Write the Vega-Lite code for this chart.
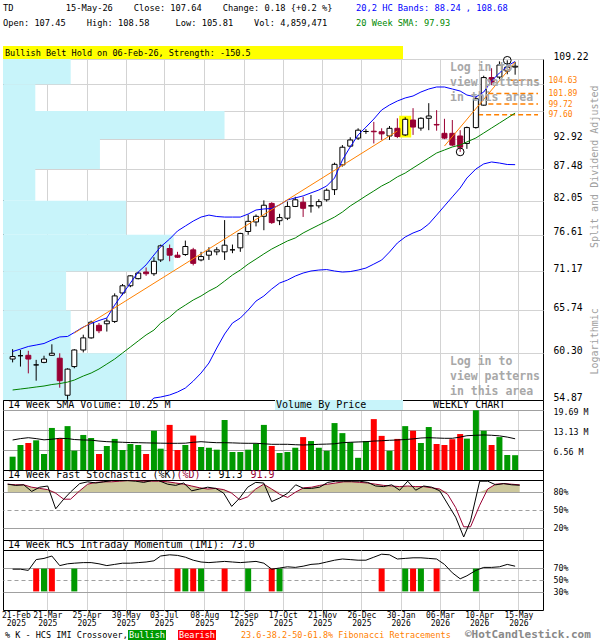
{
  "$schema": "https://vega.github.io/schema/vega-lite/v6.json",
  "padding": 0,
  "background": "#ffffff",
  "bounds": "flush",
  "spacing": 0,
  "config": {
    "font": "DejaVu Sans Mono",
    "view": {"stroke": "#000000", "strokeWidth": 1},
    "concat": {"spacing": 0},
    "axis": {"domain": false, "ticks": false, "labelFont": "DejaVu Sans Mono", "titleFont": "DejaVu Sans Mono", "labelColor": "#000000", "labelBound": false, "labelOverlap": false}
  },
  "datasets": {
    "weeks": [
      {"date": "2025-02-21", "open": 59.6, "high": 60.8, "low": 59.2, "close": 59.9, "volume": 4370000, "volSma": 9850000, "upper": 60.51, "sma": 55.99, "lower": 51.8, "k": 93, "d": 93, "imi": 68},
      {"date": "2025-02-28", "open": 60.0, "high": 60.7, "low": 58.7, "close": 60.0, "volume": 8200000, "volSma": 10300000, "upper": 60.81, "sma": 56.1, "lower": 51.8, "k": 91, "d": 92, "imi": 68},
      {"date": "2025-03-07", "open": 60.05, "high": 60.6, "low": 57.9, "close": 59.6, "volume": 8860000, "volSma": 10600000, "upper": 61.13, "sma": 56.21, "lower": 51.8, "k": 92, "d": 92, "imi": 66},
      {"date": "2025-03-14", "open": 58.9, "high": 59.5, "low": 57.05, "close": 58.9, "volume": 9740000, "volSma": 10300000, "upper": 61.31, "sma": 56.33, "lower": 51.8, "k": 81, "d": 88, "imi": 84, "cross": "Bearish"},
      {"date": "2025-03-21", "open": 59.2, "high": 60.0, "low": 59.1, "close": 59.6, "volume": 5250000, "volSma": 9900000, "upper": 61.5, "sma": 56.44, "lower": 51.75, "k": 88, "d": 86, "imi": 86, "cross": "Bullish"},
      {"date": "2025-03-28", "open": 60.05, "high": 61.4, "low": 60.0, "close": 60.3, "volume": 13800000, "volSma": 10100000, "upper": 61.94, "sma": 56.61, "lower": 51.75, "k": 90, "d": 84, "imi": 90, "cross": "Bearish"},
      {"date": "2025-04-04", "open": 59.7, "high": 60.3, "low": 56.25, "close": 57.05, "volume": 10400000, "volSma": 10400000, "upper": 62.32, "sma": 56.72, "lower": 51.9, "k": 52, "d": 78, "imi": 74},
      {"date": "2025-04-11", "open": 55.4, "high": 58.5, "low": 54.9, "close": 58.4, "volume": 14400000, "volSma": 10300000, "upper": 62.38, "sma": 56.89, "lower": 52.0, "k": 68, "d": 68, "imi": 77},
      {"date": "2025-04-17", "open": 58.7, "high": 60.8, "low": 58.5, "close": 60.7, "volume": 6340000, "volSma": 10000000, "upper": 62.88, "sma": 57.12, "lower": 52.2, "k": 80, "d": 68, "imi": 78, "cross": "Bullish"},
      {"date": "2025-04-25", "open": 60.7, "high": 62.6, "low": 60.4, "close": 62.2, "volume": 11500000, "volSma": 9850000, "upper": 63.58, "sma": 57.59, "lower": 52.35, "k": 94, "d": 82, "imi": 79},
      {"date": "2025-05-02", "open": 62.2, "high": 64.4, "low": 62.1, "close": 64.2, "volume": 10500000, "volSma": 9800000, "upper": 64.03, "sma": 57.94, "lower": 52.5, "k": 97, "d": 93, "imi": 79},
      {"date": "2025-05-09", "open": 63.8, "high": 64.1, "low": 62.8, "close": 63.1, "volume": 5250000, "volSma": 9500000, "upper": 64.42, "sma": 58.41, "lower": 52.7, "k": 95, "d": 96, "imi": 77},
      {"date": "2025-05-16", "open": 64.0, "high": 64.7, "low": 63.0, "close": 64.35, "volume": 7880000, "volSma": 9300000, "upper": 64.75, "sma": 59.0, "lower": 52.95, "k": 97, "d": 97, "imi": 74},
      {"date": "2025-05-23", "open": 64.3, "high": 68.05, "low": 64.1, "close": 67.7, "volume": 10200000, "volSma": 9200000, "upper": 66.46, "sma": 59.6, "lower": 53.2, "k": 99, "d": 97, "imi": 76},
      {"date": "2025-05-30", "open": 68.1, "high": 69.35, "low": 67.8, "close": 69.1, "volume": 6560000, "volSma": 9100000, "upper": 67.96, "sma": 60.33, "lower": 53.45, "k": 99, "d": 98, "imi": 78},
      {"date": "2025-06-06", "open": 69.1, "high": 70.6, "low": 68.9, "close": 70.5, "volume": 8530000, "volSma": 9000000, "upper": 69.48, "sma": 61.07, "lower": 53.7, "k": 99, "d": 99, "imi": 78},
      {"date": "2025-06-13", "open": 70.1, "high": 71.1, "low": 70.0, "close": 70.9, "volume": 8200000, "volSma": 8960000, "upper": 71.04, "sma": 61.82, "lower": 53.95, "k": 98, "d": 99, "imi": 79},
      {"date": "2025-06-20", "open": 71.05, "high": 71.7, "low": 70.5, "close": 70.8, "volume": 5250000, "volSma": 8900000, "upper": 72.08, "sma": 62.57, "lower": 54.3, "k": 96, "d": 98, "imi": 80},
      {"date": "2025-06-27", "open": 70.8, "high": 73.2, "low": 70.5, "close": 72.6, "volume": 12900000, "volSma": 8850000, "upper": 73.53, "sma": 63.19, "lower": 55.09, "k": 99, "d": 98, "imi": 82},
      {"date": "2025-07-03", "open": 72.8, "high": 75.1, "low": 72.5, "close": 74.9, "volume": 7000000, "volSma": 8800000, "upper": 74.76, "sma": 64.09, "lower": 55.2, "k": 99, "d": 98, "imi": 90},
      {"date": "2025-07-11", "open": 74.5, "high": 75.1, "low": 72.6, "close": 73.5, "volume": 14800000, "volSma": 8760000, "upper": 75.94, "sma": 64.87, "lower": 55.43, "k": 93, "d": 97, "imi": 92},
      {"date": "2025-07-18", "open": 73.5, "high": 74.0, "low": 73.1, "close": 73.2, "volume": 6560000, "volSma": 8760000, "upper": 77.18, "sma": 65.79, "lower": 55.76, "k": 91, "d": 95, "imi": 91, "cross": "Bearish"},
      {"date": "2025-07-25", "open": 73.6, "high": 75.7, "low": 73.4, "close": 74.8, "volume": 8200000, "volSma": 8800000, "upper": 77.96, "sma": 66.46, "lower": 56.21, "k": 95, "d": 93, "imi": 88, "cross": "Bullish"},
      {"date": "2025-08-01", "open": 74.3, "high": 74.6, "low": 72.0, "close": 72.3, "volume": 11300000, "volSma": 9100000, "upper": 78.74, "sma": 67.14, "lower": 57.0, "k": 82, "d": 90, "imi": 83, "cross": "Bearish"},
      {"date": "2025-08-08", "open": 72.8, "high": 74.0, "low": 72.6, "close": 73.3, "volume": 7550000, "volSma": 9290000, "upper": 79.38, "sma": 67.69, "lower": 57.94, "k": 85, "d": 87, "imi": 80, "cross": "Bullish"},
      {"date": "2025-08-15", "open": 73.5, "high": 74.7, "low": 72.8, "close": 74.1, "volume": 7300000, "volSma": 9100000, "upper": 79.7, "sma": 68.37, "lower": 59.12, "k": 88, "d": 85, "imi": 79},
      {"date": "2025-08-22", "open": 74.0, "high": 74.7, "low": 73.5, "close": 74.3, "volume": 6670000, "volSma": 8960000, "upper": 79.47, "sma": 68.93, "lower": 60.94, "k": 86, "d": 86, "imi": 80},
      {"date": "2025-08-29", "open": 74.0, "high": 78.9, "low": 72.8, "close": 75.0, "volume": 16400000, "volSma": 8960000, "upper": 79.38, "sma": 69.76, "lower": 62.69, "k": 78, "d": 84, "imi": 81, "cross": "Bearish"},
      {"date": "2025-09-05", "open": 74.3, "high": 75.1, "low": 73.8, "close": 74.3, "volume": 5900000, "volSma": 8900000, "upper": 79.38, "sma": 70.62, "lower": 64.09, "k": 56, "d": 78, "imi": 80},
      {"date": "2025-09-12", "open": 74.6, "high": 76.9, "low": 74.0, "close": 76.8, "volume": 5900000, "volSma": 8800000, "upper": 79.38, "sma": 71.33, "lower": 64.74, "k": 70, "d": 67, "imi": 79},
      {"date": "2025-09-19", "open": 77.1, "high": 79.8, "low": 76.6, "close": 78.7, "volume": 6670000, "volSma": 8760000, "upper": 79.87, "sma": 72.19, "lower": 65.79, "k": 88, "d": 72, "imi": 80, "cross": "Bullish"},
      {"date": "2025-09-26", "open": 78.6, "high": 79.8, "low": 77.9, "close": 79.5, "volume": 8600000, "volSma": 8760000, "upper": 80.52, "sma": 72.93, "lower": 67.0, "k": 96, "d": 85, "imi": 81},
      {"date": "2025-10-03", "open": 79.5, "high": 82.1, "low": 77.3, "close": 81.3, "volume": 14800000, "volSma": 8600000, "upper": 80.69, "sma": 73.69, "lower": 67.69, "k": 95, "d": 93, "imi": 78},
      {"date": "2025-10-10", "open": 81.6, "high": 81.8, "low": 78.3, "close": 78.5, "volume": 7880000, "volSma": 8430000, "upper": 80.77, "sma": 74.42, "lower": 68.65, "k": 64, "d": 85, "imi": 68, "cross": "Bearish"},
      {"date": "2025-10-17", "open": 78.8, "high": 79.9, "low": 78.1, "close": 79.3, "volume": 5580000, "volSma": 8430000, "upper": 81.35, "sma": 75.03, "lower": 69.48, "k": 70, "d": 76, "imi": 70, "cross": "Bullish"},
      {"date": "2025-10-24", "open": 79.2, "high": 81.9, "low": 78.9, "close": 81.1, "volume": 5900000, "volSma": 8430000, "upper": 82.17, "sma": 75.64, "lower": 69.9, "k": 78, "d": 71, "imi": 72},
      {"date": "2025-10-31", "open": 81.1, "high": 82.7, "low": 81.0, "close": 82.2, "volume": 7300000, "volSma": 8300000, "upper": 82.51, "sma": 76.1, "lower": 70.47, "k": 92, "d": 80, "imi": 71},
      {"date": "2025-11-07", "open": 81.8, "high": 82.7, "low": 79.4, "close": 80.8, "volume": 10800000, "volSma": 8200000, "upper": 82.85, "sma": 76.87, "lower": 70.9, "k": 86, "d": 87, "imi": 73},
      {"date": "2025-11-14", "open": 81.2, "high": 83.0, "low": 80.1, "close": 81.2, "volume": 9500000, "volSma": 8300000, "upper": 83.35, "sma": 77.5, "lower": 71.19, "k": 86, "d": 88, "imi": 76},
      {"date": "2025-11-21", "open": 81.2, "high": 82.3, "low": 80.8, "close": 81.9, "volume": 7300000, "volSma": 8430000, "upper": 83.84, "sma": 78.12, "lower": 71.33, "k": 88, "d": 91, "imi": 77},
      {"date": "2025-11-28", "open": 82.2, "high": 84.1, "low": 81.9, "close": 83.8, "volume": 6300000, "volSma": 8500000, "upper": 84.52, "sma": 78.74, "lower": 71.4, "k": 96, "d": 93, "imi": 80},
      {"date": "2025-12-05", "open": 83.9, "high": 88.6, "low": 83.0, "close": 88.3, "volume": 15400000, "volSma": 8600000, "upper": 85.89, "sma": 79.38, "lower": 71.19, "k": 98, "d": 95, "imi": 83},
      {"date": "2025-12-12", "open": 88.2, "high": 91.8, "low": 87.9, "close": 91.4, "volume": 12100000, "volSma": 8960000, "upper": 89.07, "sma": 80.19, "lower": 71.04, "k": 98, "d": 97, "imi": 85},
      {"date": "2025-12-19", "open": 91.6, "high": 93.25, "low": 91.4, "close": 92.75, "volume": 9100000, "volSma": 9100000, "upper": 91.45, "sma": 81.18, "lower": 71.11, "k": 98, "d": 97, "imi": 84},
      {"date": "2025-12-26", "open": 93.1, "high": 94.96, "low": 92.75, "close": 94.6, "volume": 4000000, "volSma": 9200000, "upper": 93.69, "sma": 82.0, "lower": 71.33, "k": 98, "d": 96, "imi": 83},
      {"date": "2026-01-02", "open": 94.35, "high": 94.8, "low": 93.9, "close": 94.35, "volume": 9500000, "volSma": 9290000, "upper": 95.18, "sma": 82.85, "lower": 71.62, "k": 96, "d": 95, "imi": 83},
      {"date": "2026-01-09", "open": 94.4, "high": 96.2, "low": 92.1, "close": 94.3, "volume": 16700000, "volSma": 9500000, "upper": 96.75, "sma": 83.67, "lower": 72.19, "k": 90, "d": 93, "imi": 88},
      {"date": "2026-01-16", "open": 94.3, "high": 94.96, "low": 92.75, "close": 93.9, "volume": 11200000, "volSma": 9600000, "upper": 98.54, "sma": 84.52, "lower": 72.78, "k": 89, "d": 91, "imi": 93, "cross": "Bearish"},
      {"date": "2026-01-23", "open": 93.5, "high": 95.4, "low": 92.75, "close": 94.96, "volume": 6300000, "volSma": 9750000, "upper": 99.54, "sma": 85.21, "lower": 73.97, "k": 92, "d": 90, "imi": 92},
      {"date": "2026-01-30", "open": 94.96, "high": 96.9, "low": 93.1, "close": 93.4, "volume": 10200000, "volSma": 9850000, "upper": 100.34, "sma": 86.09, "lower": 75.33, "k": 83, "d": 89, "imi": 85},
      {"date": "2026-02-06", "open": 93.7, "high": 97.1, "low": 93.5, "close": 96.7, "volume": 14400000, "volSma": 10000000, "upper": 100.96, "sma": 86.76, "lower": 76.25, "k": 98, "d": 90, "imi": 86, "cross": "Bullish", "pattern": "Bullish Belt Hold"},
      {"date": "2026-02-13", "open": 96.56, "high": 98.9, "low": 93.7, "close": 95.2, "volume": 12900000, "volSma": 10200000, "upper": 101.36, "sma": 87.65, "lower": 76.87, "k": 83, "d": 89, "imi": 87, "cross": "Bearish"},
      {"date": "2026-02-20", "open": 95.0, "high": 97.1, "low": 94.5, "close": 96.9, "volume": 8860000, "volSma": 10500000, "upper": 102.18, "sma": 88.53, "lower": 77.34, "k": 90, "d": 89, "imi": 87, "cross": "Bullish"},
      {"date": "2026-02-27", "open": 96.9, "high": 99.9, "low": 94.6, "close": 97.35, "volume": 14100000, "volSma": 10600000, "upper": 102.8, "sma": 89.43, "lower": 78.28, "k": 88, "d": 87, "imi": 86},
      {"date": "2026-03-06", "open": 95.7, "high": 98.5, "low": 94.5, "close": 95.6, "volume": 8530000, "volSma": 10500000, "upper": 103.22, "sma": 90.34, "lower": 79.7, "k": 82, "d": 85, "imi": 85, "cross": "Bearish"},
      {"date": "2026-03-13", "open": 94.0, "high": 96.8, "low": 92.9, "close": 93.1, "volume": 8200000, "volSma": 10400000, "upper": 103.22, "sma": 90.89, "lower": 81.18, "k": 60, "d": 76, "imi": 76},
      {"date": "2026-03-20", "open": 94.0, "high": 96.56, "low": 91.6, "close": 91.8, "volume": 10100000, "volSma": 10400000, "upper": 102.8, "sma": 91.45, "lower": 82.68, "k": 38, "d": 54, "imi": 62},
      {"date": "2026-03-27", "open": 93.5, "high": 94.6, "low": 90.54, "close": 91.4, "volume": 11800000, "volSma": 10800000, "upper": 102.38, "sma": 91.81, "lower": 84.18, "k": 5, "d": 22, "imi": 52, "swing": "low"},
      {"date": "2026-04-02", "open": 92.1, "high": 95.3, "low": 91.1, "close": 95.1, "volume": 10300000, "volSma": 11260000, "upper": 101.56, "sma": 92.38, "lower": 85.89, "k": 32, "d": 22, "imi": 57},
      {"date": "2026-04-10", "open": 95.1, "high": 101.2, "low": 94.9, "close": 100.8, "volume": 19600000, "volSma": 11400000, "upper": 101.16, "sma": 93.12, "lower": 87.47, "k": 98, "d": 58, "imi": 66, "cross": "Bullish"},
      {"date": "2026-04-17", "open": 99.5, "high": 105.6, "low": 99.4, "close": 105.2, "volume": 12900000, "volSma": 11500000, "upper": 102.18, "sma": 94.06, "lower": 88.37, "k": 98, "d": 85, "imi": 71},
      {"date": "2026-04-24", "open": 105.2, "high": 107.2, "low": 103.6, "close": 104.2, "volume": 8200000, "volSma": 11400000, "upper": 104.48, "sma": 95.01, "lower": 88.72, "k": 92, "d": 93, "imi": 71},
      {"date": "2026-05-01", "open": 105.3, "high": 108.7, "low": 104.9, "close": 107.9, "volume": 10800000, "volSma": 11200000, "upper": 106.18, "sma": 95.97, "lower": 88.53, "k": 94, "d": 94, "imi": 72},
      {"date": "2026-05-08", "open": 106.6, "high": 108.93, "low": 105.9, "close": 107.46, "volume": 4920000, "volSma": 10800000, "upper": 107.68, "sma": 96.94, "lower": 88.27, "k": 92, "d": 93, "imi": 76, "swing": "high"},
      {"date": "2026-05-15", "open": 107.45, "high": 108.58, "low": 105.81, "close": 107.64, "volume": 4859471, "volSma": 10250000, "upper": 108.68, "sma": 97.93, "lower": 88.24, "k": 91.3, "d": 91.9, "imi": 73}
    ],
    "vbp": [
      {"lo": 54.87, "hi": 60.3, "volume": 80},
      {"lo": 60.3, "hi": 65.74, "volume": 44},
      {"lo": 65.74, "hi": 71.17, "volume": 41},
      {"lo": 71.17, "hi": 76.61, "volume": 111},
      {"lo": 76.61, "hi": 82.05, "volume": 80},
      {"lo": 82.05, "hi": 87.48, "volume": 21},
      {"lo": 87.48, "hi": 92.92, "volume": 63},
      {"lo": 92.92, "hi": 98.35, "volume": 144},
      {"lo": 98.35, "hi": 103.79, "volume": 21},
      {"lo": 103.79, "hi": 109.22, "volume": 44}
    ],
    "fib": [
      {"level": "23.6%", "price": 104.63, "start": "2026-05-11"},
      {"level": "38.2%", "price": 101.89, "start": "2026-04-14"},
      {"level": "50%", "price": 99.72, "start": "2026-04-14"},
      {"level": "61.8%", "price": 97.6, "start": "2026-04-12"}
    ],
    "trend": [
      {"line": "a", "date": "2025-04-17", "price": 62.81},
      {"line": "a", "date": "2026-01-30", "price": 94.44},
      {"line": "b", "date": "2026-03-13", "price": 91.62},
      {"line": "b", "date": "2026-05-15", "price": 108.56}
    ]
  },
  "data": {"name": "weeks"},
  "vconcat": [
    {
      "width": 540,
      "height": 15,
      "view": {"stroke": null},
      "data": {"values": [{}]},
      "layer": [
        {
          "mark": {"type": "text", "align": "left", "baseline": "middle", "fontSize": 8.7, "lineHeight": 15.5, "color": "#000000",
            "text": ["TD\u00a0\u00a0\u00a0\u00a0\u00a0\u00a0\u00a0\u00a0\u00a0\u00a015-May-26\u00a0\u00a0\u00a0\u00a0Close: 107.64\u00a0\u00a0\u00a0\u00a0Change: 0.18 {+0.2 %}", "\u00a0Open: 107.45\u00a0\u00a0\u00a0\u00a0High: 108.58\u00a0\u00a0\u00a0\u00a0\u00a0Low: 105.81\u00a0\u00a0\u00a0\u00a0Vol: 4,859,471"]},
          "encoding": {"x": {"datum": 1739740680000, "type": "temporal", "scale": {"type": "utc", "domain": [1739740680000, 1780564680000]}, "axis": null}}
        },
        {
          "mark": {"type": "text", "align": "left", "baseline": "middle", "fontSize": 8.7, "lineHeight": 15.5, "color": "#0000ff", "text": "20,2 HC Bands: 88.24 , 108.68"},
          "encoding": {"x": {"datum": 1766427480000, "type": "temporal"}}
        },
        {
          "mark": {"type": "text", "align": "left", "baseline": "middle", "fontSize": 8.7, "lineHeight": 15.5, "color": "#008800", "text": ["", "20 Week SMA: 97.93"]},
          "encoding": {"x": {"datum": 1766427480000, "type": "temporal"}}
        }
      ]
    },
    {
      "width": 540,
      "height": 31,
      "view": {"stroke": null},
      "data": {"values": [{}]},
      "mark": {"type": "text", "text": ""}
    },
    {
      "width": 400,
      "height": 13,
      "view": {"stroke": null, "fill": "#ffff00"},
      "data": {"values": [{}]},
      "mark": {"type": "text", "align": "left", "baseline": "middle", "fontSize": 8.5, "color": "#000000", "text": "Bullish Belt Hold on 06-Feb-26, Strength: -150.5"},
      "encoding": {"x": {"datum": 1739944800000, "type": "temporal", "scale": {"type": "utc", "domain": [1739740680000, 1780564680000]}, "axis": null}}
    },
    {
      "width": 540,
      "height": 341,
      "layer": [
        {
          "data": {"name": "vbp"},
          "mark": {"type": "rect", "color": "#c8f4fa"},
          "encoding": {
            "x": {"field": "volume", "type": "quantitative", "scale": {"domain": [0, 351]}, "axis": null},
            "x2": {"datum": 0},
            "y": {
              "field": "lo", "type": "quantitative",
              "scale": {"type": "log", "domain": [54.87, 109.22], "nice": false},
              "axis": {
                "orient": "right",
                "values": [54.87, 60.3, 65.74, 71.17, 76.61, 82.05, 87.48, 92.92, 98.35, 103.79, 109.22, 97.6, 99.72, 101.89, 104.63],
                "labelExpr": "datum.value == 98.35 || datum.value == 103.79 ? '' : format(datum.value, '.2f')",
                "labelOverlap": false,
                "labelAlign": "left",
                "labelBaseline": "middle",
                "labelColor": {"condition": {"test": "datum.value == 97.6 || datum.value == 99.72 || datum.value == 101.89 || datum.value == 104.63", "value": "#ff8000"}, "value": "#000000"},
                "labelFontSize": {"condition": {"test": "datum.value == 97.6 || datum.value == 99.72 || datum.value == 101.89 || datum.value == 104.63", "value": 8}, "value": 9.7},
                "labelPadding": {"condition": {"test": "datum.value == 97.6 || datum.value == 99.72 || datum.value == 101.89 || datum.value == 104.63", "value": 5}, "value": 10},
                "labelOffset": {"condition": {"test": "datum.value == 97.6 || datum.value == 99.72 || datum.value == 101.89 || datum.value == 104.63", "value": 0}, "value": -3},
                "grid": true,
                "gridColor": "#d3d3d3",
                "gridOpacity": {"condition": {"test": "datum.value == 97.6 || datum.value == 99.72 || datum.value == 101.89 || datum.value == 104.63", "value": 0}, "value": 1},
                "title": "Logarithmic\u00a0\u00a0\u00a0\u00a0\u00a0\u00a0\u00a0\u00a0\u00a0\u00a0Split and Dividend Adjusted",
                "titleAngle": 270,
                "titleColor": "#a0a0a0",
                "titleFontSize": 10,
                "titleFontWeight": "normal",
                "titleX": 51,
                "titleBaseline": "middle",
                "titleAlign": "center"
              }
            },
            "y2": {"field": "hi"}
          }
        },
        {
          "encoding": {
            "x": {
              "field": "date", "type": "temporal",
              "scale": {"type": "utc", "domain": [1739740680000, 1780564680000]},
              "axis": {"title": null, "labels": false, "grid": true, "gridColor": "#d3d3d3",
                "values": [1740345480000, 1742764680000, 1745788680000, 1748812680000, 1751750280000, 1754860680000, 1757884680000, 1760908680000, 1763932680000, 1766956680000, 1769980680000, 1773004680000, 1776028680000, 1779052680000],
                "gridOpacity": {"condition": {"test": "datum.value < 1741000000000", "value": 0}, "value": 1}}
            }
          },
          "layer": [
            {
              "data": {"values": [{}]},
              "mark": {"type": "rect", "color": "#000000", "opacity": 0.05},
              "encoding": {"x": {"datum": 1773004680000, "type": "temporal"}, "x2": {"datum": 1780564680000}}
            },
            {
              "data": {"values": [{}]},
              "mark": {"type": "rule", "color": "#999999", "strokeWidth": 1},
              "encoding": {"x": {"datum": 1773004680000, "type": "temporal"}}
            },
            {
              "data": {"name": "fib"},
              "mark": {"type": "rule", "color": "#ff8000", "strokeWidth": 1.5, "strokeDash": [5, 3]},
              "encoding": {
                "x": {"field": "start", "type": "temporal"},
                "x2": {"datum": 1780564680000},
                "y": {"field": "price", "type": "quantitative", "scale": {"type": "log", "domain": [54.87, 109.22], "nice": false}}
              }
            },
            {
              "transform": [{"filter": "datum.pattern"}],
              "mark": {"type": "bar", "width": 9, "color": "#ffff00", "stroke": "#ffff00", "strokeWidth": 3},
              "encoding": {
                "y": {"field": "low", "type": "quantitative", "scale": {"type": "log", "domain": [54.87, 109.22], "nice": false}},
                "y2": {"field": "high"}
              }
            },
            {
              "mark": {"type": "rule", "strokeWidth": 1},
              "encoding": {
                "y": {"field": "low", "type": "quantitative", "scale": {"type": "log", "domain": [54.87, 109.22], "nice": false}},
                "y2": {"field": "high"},
                "color": {"condition": {"test": "datum.close < datum.open", "value": "#990033"}, "value": "#000000"}
              }
            },
            {
              "mark": {"type": "bar", "width": 5, "strokeWidth": 1},
              "encoding": {
                "y": {"field": "open", "type": "quantitative", "scale": {"type": "log", "domain": [54.87, 109.22], "nice": false}},
                "y2": {"field": "close"},
                "fill": {"condition": {"test": "datum.close < datum.open", "value": "#990033"}, "value": "#ffffff"},
                "stroke": {"condition": {"test": "datum.close < datum.open", "value": "#990033"}, "value": "#000000"}
              }
            },
            {
              "mark": {"type": "line", "color": "#0000ff", "strokeWidth": 1, "clip": true},
              "encoding": {"y": {"field": "upper", "type": "quantitative", "scale": {"type": "log", "domain": [54.87, 109.22], "nice": false}}}
            },
            {
              "mark": {"type": "line", "color": "#0000ff", "strokeWidth": 1, "clip": true},
              "encoding": {"y": {"field": "lower", "type": "quantitative", "scale": {"type": "log", "domain": [54.87, 109.22], "nice": false}}}
            },
            {
              "mark": {"type": "line", "color": "#008000", "strokeWidth": 1, "clip": true},
              "encoding": {"y": {"field": "sma", "type": "quantitative", "scale": {"type": "log", "domain": [54.87, 109.22], "nice": false}}}
            },
            {
              "data": {"name": "trend"},
              "mark": {"type": "line", "color": "#ff8000", "strokeWidth": 1, "clip": true},
              "encoding": {
                "y": {"field": "price", "type": "quantitative", "scale": {"type": "log", "domain": [54.87, 109.22], "nice": false}},
                "detail": {"field": "line", "type": "nominal"}
              }
            },
            {
              "transform": [{"filter": "datum.swing == 'low'"}],
              "mark": {"type": "point", "shape": "circle", "filled": false, "size": 60, "color": "#000000", "strokeWidth": 1, "opacity": 1},
              "encoding": {"y": {"field": "low", "type": "quantitative", "scale": {"type": "log", "domain": [54.87, 109.22], "nice": false}}}
            },
            {
              "transform": [{"filter": "datum.swing == 'high'"}],
              "mark": {"type": "point", "shape": "circle", "filled": false, "size": 60, "color": "#000000", "strokeWidth": 1, "opacity": 1},
              "encoding": {"y": {"field": "high", "type": "quantitative", "scale": {"type": "log", "domain": [54.87, 109.22], "nice": false}}}
            }
          ]
        },
        {
          "data": {"name": "vbp"},
          "transform": [{"filter": "datum.hi == 109.22 || datum.lo == 54.87"}],
          "mark": {"type": "text", "align": "left", "baseline": "top", "dy": 3, "fontSize": 11.5, "fontWeight": "bold", "fill": "#a8a8a8", "opacity": 1, "lineHeight": 15, "text": ["Log in to", "view patterns", "in this area"]},
          "encoding": {
            "x": {"datum": 1773533880000, "type": "temporal", "scale": {"type": "utc", "domain": [1739740680000, 1780564680000]}, "axis": null},
            "y": {"field": "hi", "type": "quantitative", "scale": {"type": "log", "domain": [54.87, 109.22], "nice": false}}
          }
        }
      ],
      "resolve": {"scale": {"x": "independent"}, "axis": {"x": "independent"}}
    },
    {
      "width": 540,
      "height": 10,
      "data": {"values": [{}]},
      "layer": [
        {
          "mark": {"type": "rect", "color": "#c8f4fa"},
          "encoding": {"x": {"datum": 1760303880000, "type": "temporal", "scale": {"type": "utc", "domain": [1739740680000, 1780564680000]}, "axis": null}, "x2": {"datum": 1769980680000}}
        },
        {
          "mark": {"type": "text", "align": "left", "baseline": "middle", "fontSize": 10, "color": "#000000", "text": "14 Week SMA Volume: 10.25 M"},
          "encoding": {"x": {"datum": 1740118680000, "type": "temporal"}}
        },
        {
          "mark": {"type": "text", "align": "left", "baseline": "middle", "fontSize": 10, "color": "#000000", "text": "Volume By Price"},
          "encoding": {"x": {"datum": 1760379480000, "type": "temporal"}}
        },
        {
          "mark": {"type": "text", "align": "left", "baseline": "middle", "fontSize": 10, "color": "#000000", "text": "WEEKLY CHART"},
          "encoding": {"x": {"datum": 1772248680000, "type": "temporal"}}
        }
      ]
    },
    {
      "width": 540,
      "height": 60,
      "encoding": {
        "x": {
          "field": "date", "type": "temporal",
          "scale": {"type": "utc", "domain": [1739740680000, 1780564680000]},
          "axis": {"title": null, "labels": false, "grid": true, "gridColor": "#d3d3d3",
            "values": [1740345480000, 1742764680000, 1745788680000, 1748812680000, 1751750280000, 1754860680000, 1757884680000, 1760908680000, 1763932680000, 1766956680000, 1769980680000, 1773004680000, 1776028680000, 1779052680000],
            "gridOpacity": {"condition": {"test": "datum.value < 1741000000000", "value": 0}, "value": 1}}
        }
      },
      "layer": [
        {
          "mark": {"type": "bar", "width": 6},
          "encoding": {
            "y": {
              "field": "volume", "type": "quantitative",
              "scale": {"domain": [0, 19690000], "nice": false},
              "axis": {"orient": "right", "title": null, "values": [6563333, 13126667, 19690000], "labelExpr": "format(datum.value / 1000000, '.2f') + ' M'", "labelAlign": "left", "labelPadding": 10, "labelFontSize": 8.3, "labelOffset": 2, "labelOverlap": false, "grid": true, "gridColor": "#a0a0a0"}
            },
            "color": {"condition": {"test": "datum.close < datum.open", "value": "#ff0000"}, "value": "#009900"}
          }
        },
        {
          "mark": {"type": "line", "color": "#000000", "strokeWidth": 1},
          "encoding": {
            "y": {
              "field": "volSma", "type": "quantitative",
              "scale": {"domain": [0, 19690000], "nice": false},
              "axis": {"orient": "right", "title": null, "values": [6563333, 13126667, 19690000], "labelExpr": "format(datum.value / 1000000, '.2f') + ' M'", "labelAlign": "left", "labelPadding": 10, "labelFontSize": 8.3, "labelOffset": 2, "labelOverlap": false, "grid": true, "gridColor": "#a0a0a0"}
            }
          }
        }
      ]
    },
    {
      "width": 540,
      "height": 10,
      "data": {"values": [{}]},
      "layer": [
        {
          "mark": {"type": "text", "align": "left", "baseline": "middle", "fontSize": 10, "color": "#000000", "text": "14 Week Fast Stochastic (%K)"},
          "encoding": {"x": {"datum": 1740118680000, "type": "temporal", "scale": {"type": "utc", "domain": [1739740680000, 1780564680000]}, "axis": null}}
        },
        {
          "mark": {"type": "text", "align": "left", "baseline": "middle", "fontSize": 10, "color": "#990033", "text": "(%D)"},
          "encoding": {"x": {"datum": 1752857280000, "type": "temporal"}}
        },
        {
          "mark": {"type": "text", "align": "left", "baseline": "middle", "fontSize": 10, "color": "#000000", "text": ": 91.3"},
          "encoding": {"x": {"datum": 1755125280000, "type": "temporal"}}
        },
        {
          "mark": {"type": "text", "align": "left", "baseline": "middle", "fontSize": 10, "color": "#990033", "text": "91.9"},
          "encoding": {"x": {"datum": 1758451680000, "type": "temporal"}}
        }
      ]
    },
    {
      "width": 540,
      "height": 60,
      "encoding": {
        "x": {
          "field": "date", "type": "temporal",
          "scale": {"type": "utc", "domain": [1739740680000, 1780564680000]},
          "axis": {"title": null, "labels": false, "grid": true, "gridColor": "#d3d3d3",
            "values": [1740345480000, 1742764680000, 1745788680000, 1748812680000, 1751750280000, 1754860680000, 1757884680000, 1760908680000, 1763932680000, 1766956680000, 1769980680000, 1773004680000, 1776028680000, 1779052680000],
            "gridOpacity": {"condition": {"test": "datum.value < 1741000000000", "value": 0}, "value": 1}}
        }
      },
      "layer": [
        {
          "mark": {"type": "area", "color": "#cdc89c", "opacity": 1},
          "encoding": {
            "y": {"field": "d", "type": "quantitative", "scale": {"domain": [80, 100], "range": [12, 0], "clamp": true, "nice": false, "zero": false}, "axis": null},
            "y2": {"datum": 80}
          }
        },
        {
          "layer": [
            {
              "mark": {"type": "line", "color": "#990033", "strokeWidth": 1},
              "encoding": {
                "y": {
                  "field": "d", "type": "quantitative",
                  "scale": {"domain": [0, 100], "nice": false},
                  "axis": {"orient": "right", "title": null, "values": [20, 50, 80], "labelExpr": "datum.value + '%'", "labelAlign": "left", "labelPadding": 10, "labelFontSize": 8.3, "labelOverlap": false, "grid": true, "gridColor": "#a0a0a0",
                    "gridDash": {"condition": {"test": "datum.value == 50", "value": [4, 3]}, "value": []}}
                }
              }
            },
            {
              "mark": {"type": "line", "color": "#000000", "strokeWidth": 1},
              "encoding": {
                "y": {
                  "field": "k", "type": "quantitative",
                  "scale": {"domain": [0, 100], "nice": false},
                  "axis": {"orient": "right", "title": null, "values": [20, 50, 80], "labelExpr": "datum.value + '%'", "labelAlign": "left", "labelPadding": 10, "labelFontSize": 8.3, "labelOverlap": false, "grid": true, "gridColor": "#a0a0a0",
                    "gridDash": {"condition": {"test": "datum.value == 50", "value": [4, 3]}, "value": []}}
                }
              }
            }
          ]
        }
      ],
      "resolve": {"scale": {"y": "independent"}}
    },
    {
      "width": 540,
      "height": 10,
      "data": {"values": [{}]},
      "mark": {"type": "text", "align": "left", "baseline": "middle", "fontSize": 10, "color": "#000000", "text": "14 Week HCS Intraday Momentum (IMI): 73.0"},
      "encoding": {"x": {"datum": 1740118680000, "type": "temporal", "scale": {"type": "utc", "domain": [1739740680000, 1780564680000]}, "axis": null}}
    },
    {
      "width": 540,
      "height": 60,
      "encoding": {
        "x": {
          "field": "date", "type": "temporal",
          "scale": {"type": "utc", "domain": [1739740680000, 1780564680000]},
          "axis": {"title": null, "grid": true, "gridColor": "#d3d3d3",
            "values": [1740345480000, 1742764680000, 1745788680000, 1748812680000, 1751750280000, 1754860680000, 1757884680000, 1760908680000, 1763932680000, 1766956680000, 1769980680000, 1773004680000, 1776028680000, 1779052680000],
            "gridOpacity": {"condition": {"test": "datum.value < 1741000000000", "value": 0}, "value": 1},
            "labelExpr": "[utcFormat(datum.value - 249480000, '%d-%b'), utcFormat(datum.value - 249480000, '%Y')]",
            "labelFontSize": 8, "labelLineHeight": 8, "labelPadding": 1, "labelFlush": 10, "labelFlushOffset": 8, "labelOverlap": false, "labelAngle": 0}
        }
      },
      "layer": [
        {
          "transform": [{"filter": "datum.cross != null"}],
          "mark": {"type": "bar", "width": 6},
          "encoding": {
            "y": {
              "datum": 69, "type": "quantitative",
              "scale": {"domain": [0, 100], "nice": false},
              "axis": {"orient": "right", "title": null, "values": [30, 50, 70], "labelExpr": "datum.value + '%'", "labelAlign": "left", "labelPadding": 10, "labelFontSize": 8.3, "labelOverlap": false, "grid": true, "gridColor": "#a0a0a0",
                "gridDash": {"condition": {"test": "datum.value == 50", "value": [4, 3]}, "value": []}}
            },
            "y2": {"datum": 31},
            "color": {"field": "cross", "type": "nominal", "scale": {"domain": ["Bullish", "Bearish"], "range": ["#009900", "#ff0000"]}, "legend": null}
          }
        },
        {
          "mark": {"type": "line", "color": "#000000", "strokeWidth": 1},
          "encoding": {
            "y": {
              "field": "imi", "type": "quantitative",
              "scale": {"domain": [0, 100], "nice": false},
              "axis": {"orient": "right", "title": null, "values": [30, 50, 70], "labelExpr": "datum.value + '%'", "labelAlign": "left", "labelPadding": 10, "labelFontSize": 8.3, "labelOverlap": false, "grid": true, "gridColor": "#a0a0a0",
                "gridDash": {"condition": {"test": "datum.value == 50", "value": [4, 3]}, "value": []}}
            }
          }
        }
      ]
    },
    {
      "width": 540,
      "height": 20,
      "view": {"stroke": null},
      "data": {"values": [{}]},
      "mark": {"type": "text", "text": ""}
    },
    {
      "width": 540,
      "height": 10,
      "view": {"stroke": null},
      "data": {"values": [{}]},
      "layer": [
        {
          "mark": {"type": "text", "align": "left", "baseline": "middle", "fontSize": 8.5, "color": "#000000", "text": "% K - HCS IMI Crossover,"},
          "encoding": {"x": {"datum": 1739891880000, "type": "temporal", "scale": {"type": "utc", "domain": [1739740680000, 1780564680000]}, "axis": null}}
        },
        {
          "mark": {"type": "rect", "color": "#009900"},
          "encoding": {"x": {"datum": 1749190680000, "type": "temporal"}, "x2": {"datum": 1752063480000}}
        },
        {
          "mark": {"type": "text", "align": "center", "baseline": "middle", "fontSize": 8.5, "color": "#ffffff", "text": "Bullish"},
          "encoding": {"x": {"datum": 1750627080000, "type": "temporal"}}
        },
        {
          "mark": {"type": "rect", "color": "#ff0000"},
          "encoding": {"x": {"datum": 1752970680000, "type": "temporal"}, "x2": {"datum": 1755843480000}}
        },
        {
          "mark": {"type": "text", "align": "center", "baseline": "middle", "fontSize": 8.5, "color": "#ffffff", "text": "Bearish"},
          "encoding": {"x": {"datum": 1754407080000, "type": "temporal"}}
        },
        {
          "mark": {"type": "text", "align": "left", "baseline": "middle", "fontSize": 8.5, "color": "#ff8000", "text": "23.6-38.2-50-61.8% Fibonacci Retracements"},
          "encoding": {"x": {"datum": 1757733480000, "type": "temporal"}}
        },
        {
          "mark": {"type": "text", "align": "left", "baseline": "middle", "fontSize": 11, "fontWeight": "bold", "color": "#888888", "text": "\u00a9HotCandlestick.com"},
          "encoding": {"x": {"datum": 1774667880000, "type": "temporal"}}
        }
      ]
    }
  ]
}
